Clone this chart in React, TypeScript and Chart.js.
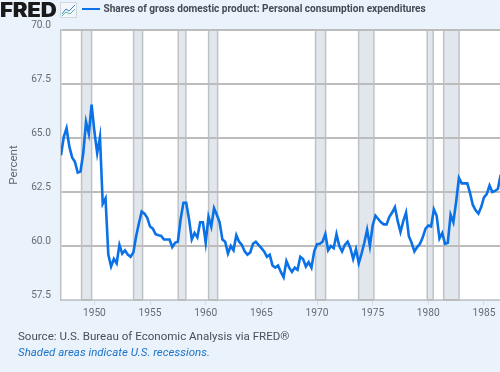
import React, { useEffect, useRef } from "react";
import { Chart, registerables } from "chart.js";

Chart.register(...registerables);

const START_YEAR = 1947;
const consumptionShare = [
  64.2, 65.05, 65.45, 64.6, 64.1, 63.9, 63.4, 63.45, 64.3, 65.75, 65.2, 66.55, 65.3, 64.3, 65.05, 61.95,
  62.2, 59.6, 59.05, 59.4, 59.2, 60.05, 59.65, 59.8, 59.6, 59.5, 59.7, 60.45, 61.05, 61.6, 61.5, 61.3,
  60.9, 60.8, 60.55, 60.5, 60.47, 60.3, 60.3, 60.3, 59.95, 60.15, 60.2, 61.25, 62.0, 62.0, 61.25, 60.3,
  60.6, 60.4, 61.1, 61.1, 60.15, 61.35, 60.9, 61.75, 61.45, 61.1, 60.3, 60.2, 59.65, 60.0, 59.8, 60.5,
  60.2, 60.05, 59.75, 59.6, 59.7, 60.1, 60.2, 60.05, 59.9, 59.75, 59.5, 59.6, 59.1, 59.0, 59.1, 58.8,
  58.55, 59.3, 59.0, 58.8, 59.0, 58.9, 59.5, 59.4, 59.05, 59.25, 59.0, 59.75, 60.08, 60.1, 60.2, 60.55,
  59.8, 60.0, 59.9, 60.55, 60.0, 59.75, 60.05, 60.2, 59.9, 59.4, 59.85, 59.2, 59.65, 60.15, 60.75, 60.0,
  60.95, 61.4, 61.25, 61.1, 61.0, 61.0, 61.35, 61.55, 61.8, 61.15, 60.65, 61.15, 61.55, 60.45, 60.15, 59.75,
  59.95, 60.1, 60.4, 60.8, 60.95, 60.9, 61.7, 61.4, 60.35, 60.6, 60.1, 60.15, 61.45, 61.1, 62.05, 63.15,
  62.9, 62.9, 62.9, 62.45, 61.9, 61.65, 61.5, 61.8, 62.25, 62.4, 62.8, 62.5, 62.55, 62.65, 63.3,
];
const recessionStarts = [1948.85, 1953.52, 1957.53, 1960.26, 1969.87, 1973.74, 1979.9, 1981.38];
const recessionEnds = [1949.75, 1954.33, 1958.22, 1961.07, 1970.77, 1975.11, 1980.44, 1982.76];
const xTickYears = [1950, 1955, 1960, 1965, 1970, 1975, 1980, 1985];
const yTickValues = [57.5, 60, 62.5, 65, 67.5, 70];

const TITLE = "Shares of gross domestic product: Personal consumption expenditures";
const SOURCE = "Source: U.S. Bureau of Economic Analysis via FRED®";
const NOTE = "Shaded areas indicate U.S. recessions.";
const FONT = "Roboto, sans-serif";
const LINE = "#0a72e6";
const BAND_EDGE = "#bfc2c5";
const GRID = "#bcbcbc";
const GRID_WIDTH = 2;

const plotBackground = {
  id: "plotBackground",
  beforeDraw(chart: any) {
    const { ctx, chartArea: a } = chart;
    ctx.save();
    ctx.fillStyle = "#ffffff";
    ctx.fillRect(a.left, a.top, a.right - a.left, a.bottom - a.top);
    ctx.restore();
  },
};

// Carries the horizontal grid across the recession bands, underneath the series line.
const gridOverBands = {
  id: "gridOverBands",
  beforeDatasetDraw(chart: any, args: any) {
    if (args.index !== 0) return;
    const { ctx, scales } = chart;
    ctx.save();
    ctx.strokeStyle = GRID;
    ctx.lineWidth = GRID_WIDTH;
    yTickValues.forEach((v) => {
      const py = Math.round(scales.y.getPixelForValue(v));
      recessionStarts.forEach((s, i) => {
        ctx.beginPath();
        ctx.moveTo(scales.x.getPixelForValue(s), py);
        ctx.lineTo(scales.x.getPixelForValue(recessionEnds[i]), py);
        ctx.stroke();
      });
    });
    ctx.restore();
  },
};

export default function App() {
  const ref = useRef<HTMLCanvasElement>(null);
  useEffect(() => {
    document.body.style.margin = "0";
    document.body.style.background = "#eaf2fb";
    const yMin = yTickValues[0];
    const yMax = yTickValues[yTickValues.length - 1];
    const recessionSets = recessionStarts.map((s, i) => ({
      data: [
        { x: s, y: yMin },
        { x: s, y: yMax },
        { x: recessionEnds[i], y: yMax },
        { x: recessionEnds[i], y: yMin },
      ],
      showLine: true,
      pointRadius: 0,
      borderWidth: 1.5,
      borderColor: BAND_EDGE,
      backgroundColor: "#e1e7ed",
      fill: "start",
      tension: 0,
      segment: {
        borderColor: (ctx: any) => (ctx.p0DataIndex === 1 ? "rgba(0,0,0,0)" : BAND_EDGE),
      },
    }));
    const chart = new Chart(ref.current!, {
      type: "scatter",
      plugins: [plotBackground, gridOverBands],
      data: {
        datasets: [
          {
            data: consumptionShare.map((v, i) => ({ x: START_YEAR + i / 4, y: v })),
            showLine: true,
            pointRadius: 0,
            borderColor: LINE,
            borderWidth: 2.6,
            tension: 0,
            borderJoinStyle: "miter",
          },
          ...recessionSets,
        ] as any,
      },
      options: {
        animation: false,
        responsive: false,
        layout: { padding: { top: 30, left: 0, right: 0, bottom: 0 } },
        plugins: { legend: { display: false }, tooltip: { enabled: false } },
        scales: {
          x: {
            type: "linear",
            min: START_YEAR,
            max: 1986.44,
            afterFit: (s: any) => { s.height = 72; },
            afterBuildTicks: (s: any) => { s.ticks = xTickYears.map((value) => ({ value })); },
            grid: { drawOnChartArea: false, drawTicks: true, tickLength: 5, tickColor: "#d3dce6" },
            border: { color: "#c9d0d8", width: 1.5 },
            ticks: {
              color: "#666c72",
              font: { family: FONT, size: 10.2 },
              padding: 2,
              maxRotation: 0,
              callback: (v: any) => String(v),
            },
          },
          y: {
            min: yMin,
            max: yMax,
            afterFit: (s: any) => { s.width = 61; },
            afterBuildTicks: (s: any) => { s.ticks = yTickValues.map((value) => ({ value })); },
            grid: { color: GRID, lineWidth: GRID_WIDTH, drawTicks: false },
            border: { color: "#bfc2c5", width: 1.5 },
            title: {
              display: true,
              text: "Percent",
              color: "#5d6670",
              font: { family: FONT, size: 11.5 },
              padding: { top: 7, bottom: 0 },
            },
            ticks: {
              color: "#666c72",
              font: { family: FONT, size: 10.2, lineHeight: 0.85 },
              padding: 10,
              callback: (v: any) => [Number(v).toFixed(1), ""],
            },
          },
        },
      },
    } as any);
    return () => chart.destroy();
  }, []);

  const abs = (o: React.CSSProperties): React.CSSProperties => ({
    position: "absolute",
    whiteSpace: "nowrap",
    fontFamily: FONT,
    ...o,
  });

  return (
    <div style={{ position: "relative", width: 500, height: 372, overflow: "hidden", background: "#eaf2fb" }}>
      <canvas ref={ref} width={500} height={372} style={{ display: "block", position: "absolute", left: 0, top: 0 }} />
      <div style={abs({ left: 0, top: -1, fontFamily: "Inter, sans-serif", fontSize: 19.5, fontWeight: 900, color: "#1a1a1a", lineHeight: "23px", letterSpacing: -0.2, transform: "scaleX(1.14)", transformOrigin: "left center" })}>FRED</div>
      <svg width={17} height={16} style={{ position: "absolute", left: 60, top: 2 }}>
        <rect x={0.5} y={0.5} width={16} height={15} fill="#f4f7fa" stroke="#d0d6dc" />
        <polyline points="2,12 6,7 9,9 15,3" fill="none" stroke="#3b7fd0" strokeWidth={1} />
        <polyline points="2,14 6,10 10,12 15,7" fill="none" stroke="#5cb5a8" strokeWidth={1} />
      </svg>
      <div style={{ position: "absolute", left: 82, top: 8, width: 18, height: 2.4, background: LINE }} />
      <div style={abs({ left: 103.5, top: 2, fontSize: 10.1, fontWeight: 700, color: "#444b52", lineHeight: "14px" })}>{TITLE}</div>
      <div style={abs({ left: 18, top: 329, fontSize: 11.55, color: "#4b4f54", lineHeight: "14px" })}>{SOURCE}</div>
      <div style={abs({ left: 18, top: 345, fontSize: 11.5, fontStyle: "italic", color: "#1c73c9", lineHeight: "14px" })}>{NOTE}</div>
    </div>
  );
}
